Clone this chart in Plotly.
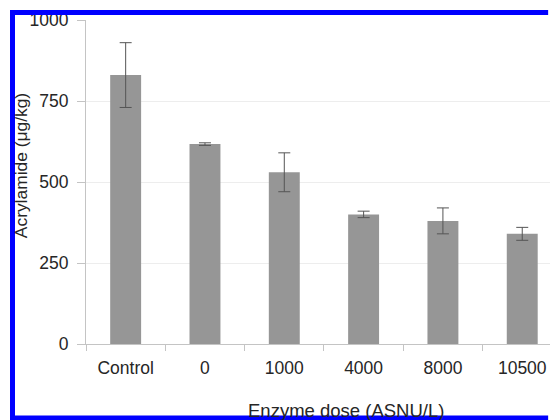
import plotly.graph_objects as go

categories = ["Control", "0", "1000", "4000", "8000", "10500"]
acrylamide = [830, 617, 530, 400, 380, 340]
errors = [100, 4, 60, 10, 40, 20]
y_ticks = [0, 250, 500, 750, 1000]

FONT = "Liberation Sans, Arial, sans-serif"
TXT = "#262626"
BLUE = "#0000ff"

fig = go.Figure(go.Bar(
    x=categories, y=acrylamide,
    marker=dict(color="#969696", line=dict(width=0)),
    width=0.39,
    error_y=dict(type="data", array=errors, visible=True,
                 color="#555555", thickness=1, width=6),
))

border_left, border_top, border_bottom = -0.1584, 1.0231, -0.2284
border_right = 0.996

fig.update_layout(
    width=550, height=420,
    margin=dict(l=86, r=0, t=20, b=76),
    paper_bgcolor="white", plot_bgcolor="white",
    showlegend=False,
    font=dict(family=FONT, color=TXT, size=17),
    xaxis=dict(
        range=[-0.5, 5.35], showgrid=False, zeroline=False,
        showline=True, linecolor="#c4c4c4", linewidth=1,
        ticks="outside", tickson="boundaries", ticklen=6, tickcolor="#c4c4c4",
        tickfont=dict(size=17.5, color=TXT, family=FONT),
        ticklabelstandoff=8,
    ),
    yaxis=dict(
        range=[0, 1000], tickvals=y_ticks, showgrid=True, gridcolor="#ededed",
        zeroline=False, showline=True, linecolor="#c4c4c4", linewidth=1,
        ticks="outside", ticklen=8, tickcolor="#c4c4c4",
        tickfont=dict(size=17.5, color=TXT, family=FONT),
        ticklabelstandoff=5,
    ),
    annotations=[
        dict(text="Acrylamide (μg/kg)", xref="paper", yref="paper",
             x=-0.140, y=0.549, showarrow=False, textangle=-90,
             font=dict(size=17.4, color=TXT, family=FONT),
             xanchor="center", yanchor="middle"),
        dict(text="Enzyme dose (ASNU/L)", xref="paper", yref="paper",
             x=0.560, y=-0.205, showarrow=False,
             font=dict(size=18.5, color=TXT, family=FONT),
             xanchor="center", yanchor="middle"),
    ],
    shapes=[
        dict(type="line", xref="paper", yref="paper",
             x0=border_left, x1=border_right, y0=border_top, y1=border_top,
             line=dict(color=BLUE, width=5), layer="above"),
        dict(type="line", xref="paper", yref="paper",
             x0=border_left, x1=border_right, y0=border_bottom, y1=border_bottom,
             line=dict(color=BLUE, width=5), layer="above"),
        dict(type="line", xref="paper", yref="paper",
             x0=border_left, x1=border_left, y0=border_bottom - 0.01, y1=border_top + 0.0077,
             line=dict(color=BLUE, width=5), layer="above"),
    ],
)

fig.write_html(
    "out.html",
    config={"displayModeBar": False},
    post_script="document.body.style.margin='0';document.body.style.overflow='hidden';",
)
